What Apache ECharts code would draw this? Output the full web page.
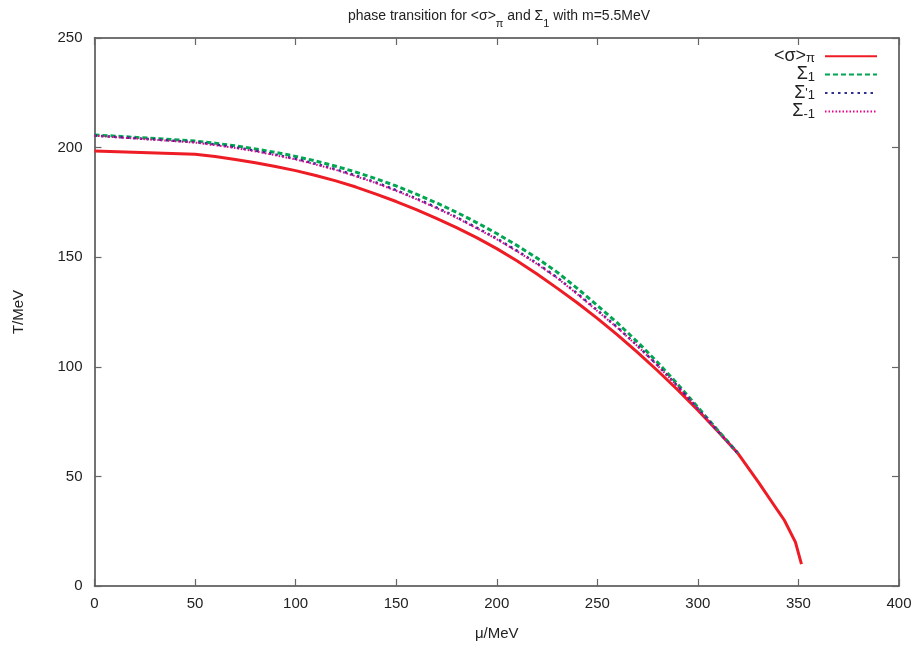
<!DOCTYPE html>
<html>
<head>
<meta charset="utf-8">
<script src="https://cdn.jsdelivr.net/npm/echarts@6/dist/echarts.min.js"></script>
<style>
  html, body { margin: 0; padding: 0; background: #fff; }
  #chart { width: 920px; height: 650px; }
</style>
</head>
<body>
<div id="chart"></div>
<script>
// chemical potential grid (MeV) for the <σ>π transition line
const muSigmaPi = [0, 50, 60, 70, 80, 90, 100, 110, 120, 130, 140, 150, 160, 170, 180, 190, 200,
  210, 220, 230, 240, 250, 260, 270, 280, 290, 300, 310, 320, 330, 340, 343, 348.5, 351.5];
const tSigmaPi = [198.5, 197.0, 195.9, 194.6, 193.1, 191.4, 189.5, 187.3, 184.8, 182.0, 178.8, 175.4,
  171.7, 167.7, 163.5, 158.9, 153.9, 148.4, 142.3, 135.9, 129.2, 122.1, 114.6, 106.6, 98.2, 89.4,
  80.2, 70.5, 60.4, 47.5, 34.0, 30.0, 20.0, 10.0];

// chemical potential grid (MeV) for the Σ transition lines
const muSigma = [0, 50, 60, 70, 80, 90, 100, 110, 120, 130, 140, 150, 160, 170, 180, 190, 200,
  210, 220, 230, 240, 250, 260, 270, 280, 290, 300, 310, 320];
const tSigma1 = [205.8, 203.0, 202.0, 200.8, 199.4, 197.8, 196.0, 193.9, 191.5, 188.8, 185.8, 182.5,
  178.8, 174.8, 170.5, 165.8, 160.8, 155.4, 149.6, 143.2, 135.8, 128.0, 120.0, 111.3, 102.0, 92.0,
  81.5, 71.0, 60.5];
const tSigma1p = [205.5, 202.5, 201.4, 200.1, 198.6, 196.8, 194.9, 192.6, 190.1, 187.2, 184.1, 180.6,
  176.8, 172.7, 168.3, 163.5, 158.5, 153.0, 147.2, 140.8, 133.5, 125.8, 118.0, 109.6, 100.7, 91.1,
  80.9, 70.7, 60.3];
const tSigmaM1 = [205.4, 202.3, 201.1, 199.8, 198.3, 196.5, 194.6, 192.3, 189.8, 186.9, 183.8, 180.3,
  176.5, 172.4, 168.0, 163.2, 158.2, 152.7, 146.9, 140.5, 133.2, 125.5, 117.8, 109.4, 100.5, 91.0,
  80.8, 70.6, 60.3];

const xTicks = [0, 50, 100, 150, 200, 250, 300, 350, 400];
const yTicks = [0, 50, 100, 150, 200, 250];

const seriesNames = ['<σ>π', 'Σ1', "Σ'1", 'Σ-1'];
const legendLabels = {
  '<σ>π': '{m|<σ>}{s|π}',
  'Σ1': '{m|Σ}{s|1}',
  "Σ'1": "{m|Σ}{p|'}{s|1}",
  'Σ-1': '{m|Σ}{s|-1}'
};

const FONT = '"Liberation Sans", Arial, Helvetica, sans-serif';
const TXT = '#222';
const AXIS = '#444';
const TICK = '#666';

const pair = (xs, ys) => xs.map((x, i) => [x, ys[i]]);

const chart = echarts.init(document.getElementById('chart'), null, { renderer: 'canvas' });

const axisCommon = {
  axisLine: { show: true, onZero: false, lineStyle: { color: AXIS, width: 1.5 } },
  axisTick: { show: true, inside: true, length: 7, lineStyle: { color: TICK, width: 1.2 } },
  splitLine: { show: false }
};

chart.setOption({
  animation: false,
  backgroundColor: '#fff',
  textStyle: { fontFamily: FONT },
  title: {
    text: '{m|phase transition for <σ>}{s|π}{m| and Σ}{s|1}{m| with m=5.5MeV}',
    left: 494,
    textAlign: 'center',
    top: 2,
    textStyle: {
      fontFamily: FONT,
      fontWeight: 'normal',
      fontSize: 14,
      color: TXT,
      rich: {
        m: { fontFamily: FONT, fontSize: 14, color: TXT, lineHeight: 22, verticalAlign: 'top', padding: [2, 0, 0, 0] },
        s: { fontFamily: FONT, fontSize: 11, color: TXT, verticalAlign: 'bottom' }
      }
    }
  },
  grid: { left: 94.5, right: 21, top: 38, bottom: 64, containLabel: false },
  legend: {
    orient: 'vertical',
    right: 37,
    top: 42,
    align: 'right',
    itemWidth: 52,
    itemHeight: 14,
    itemGap: 0,
    data: seriesNames,
    itemStyle: { opacity: 0 },
    formatter: (name) => legendLabels[name],
    textStyle: {
      fontFamily: FONT,
      fontSize: 17,
      color: TXT,
      padding: [0, 5, 0, 0],
      rich: {
        m: { fontFamily: FONT, fontSize: 18, color: TXT, lineHeight: 18.4, verticalAlign: 'top' },
        p: { fontFamily: FONT, fontSize: 13, color: TXT, verticalAlign: 'middle' },
        s: { fontFamily: FONT, fontSize: 13, color: TXT, verticalAlign: 'bottom' }
      }
    }
  },
  xAxis: [
    Object.assign({
      type: 'value', position: 'bottom', min: 0, max: 400, interval: 50,
      name: 'μ/MeV', nameLocation: 'middle', nameGap: 40,
      nameTextStyle: { fontFamily: FONT, fontSize: 15, color: TXT },
      axisLabel: {
        fontFamily: FONT, fontSize: 15, color: TXT, margin: 10,
        formatter: (v) => (xTicks.includes(v) ? String(v) : '')
      }
    }, axisCommon),
    Object.assign({
      type: 'value', position: 'top', min: 0, max: 400, interval: 50,
      axisLabel: { show: false }
    }, axisCommon)
  ],
  yAxis: [
    Object.assign({
      type: 'value', position: 'left', min: 0, max: 250, interval: 50,
      name: 'T/MeV', nameLocation: 'middle', nameGap: 68, nameRotate: 90,
      nameTextStyle: { fontFamily: FONT, fontSize: 15, color: TXT },
      axisLabel: {
        fontFamily: FONT, fontSize: 15, color: TXT, margin: 12,
        formatter: (v) => (yTicks.includes(v) ? String(v) : '')
      }
    }, axisCommon),
    Object.assign({
      type: 'value', position: 'right', min: 0, max: 250, interval: 50,
      axisLabel: { show: false }
    }, axisCommon)
  ],
  series: [
    {
      name: seriesNames[0], type: 'line', data: pair(muSigmaPi, tSigmaPi),
      showSymbol: false, symbol: 'none', z: 2,
      lineStyle: { color: '#ee1c25', width: 3 },
      itemStyle: { color: '#ee1c25' }
    },
    {
      name: seriesNames[1], type: 'line', data: pair(muSigma, tSigma1),
      showSymbol: false, symbol: 'none', z: 3,
      lineStyle: { color: '#00a651', width: 3, type: [5, 3] },
      itemStyle: { color: '#00a651' }
    },
    {
      name: seriesNames[2], type: 'line', data: pair(muSigma, tSigma1p),
      showSymbol: false, symbol: 'none', z: 4,
      lineStyle: { color: '#2e3192', width: 2.5, type: [2.5, 4] },
      itemStyle: { color: '#2e3192' }
    },
    {
      name: seriesNames[3], type: 'line', data: pair(muSigma, tSigmaM1),
      showSymbol: false, symbol: 'none', z: 5,
      lineStyle: { color: '#ec008c', width: 2, type: [1.5, 2] },
      itemStyle: { color: '#ec008c' }
    }
  ]
});
</script>
</body>
</html>
